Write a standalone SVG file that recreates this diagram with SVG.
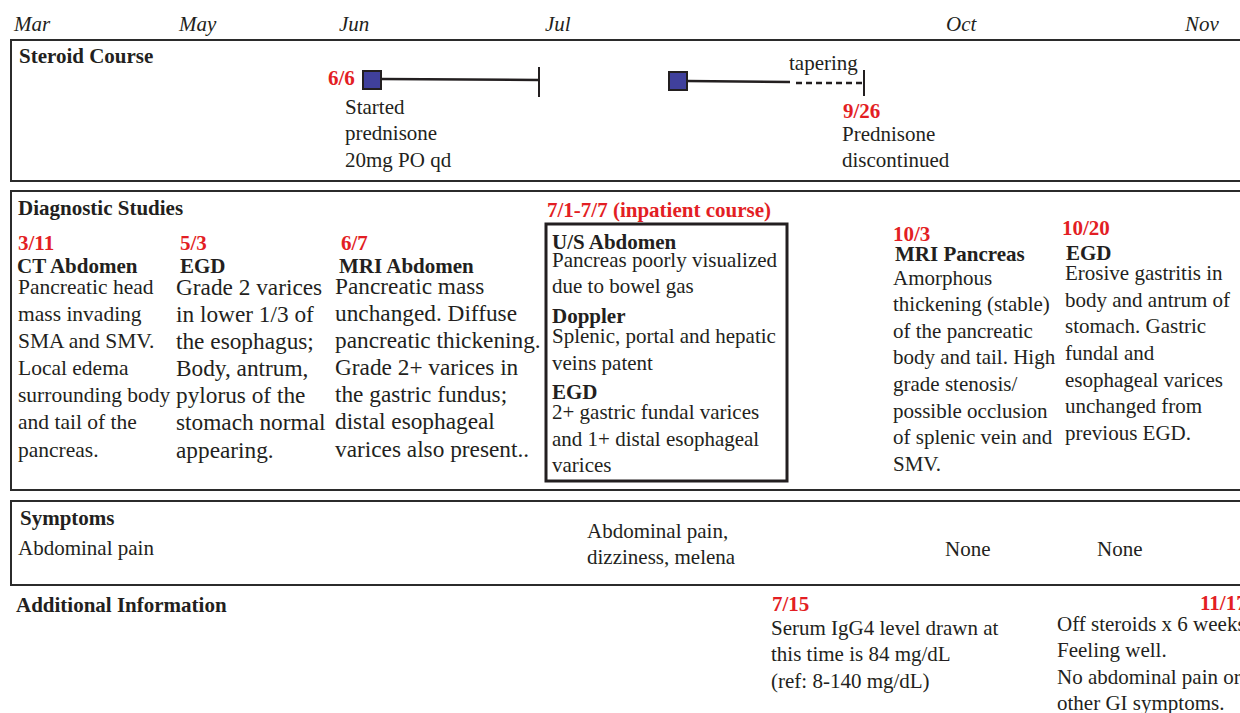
<svg xmlns="http://www.w3.org/2000/svg" width="1240" height="713" viewBox="0 0 1240 713" font-family="Liberation Serif, Times New Roman, serif">
<style>
text{font-family:'Liberation Serif',serif;font-size:21px;fill:#231f20}
.m{font-style:italic}
.b{font-weight:bold}
.r{font-weight:bold;fill:#e31e24}
.c1 text{font-size:21.5px}
.c2 text{font-size:23.3px}
.box{fill:none;stroke:#2b2b2b;stroke-width:2}
.ln{stroke:#231f20;stroke-width:2.5;fill:none}
.sq{fill:#40409c;stroke:#231f20;stroke-width:2}
</style>
<rect width="1240" height="713" fill="#fff"/>
<g id="months">
<text class="m" x="14" y="31">Mar</text>
<text class="m" x="179" y="31">May</text>
<text class="m" x="339" y="31">Jun</text>
<text class="m" x="545" y="31">Jul</text>
<text class="m" x="946" y="31">Oct</text>
<text class="m" x="1185" y="31">Nov</text>
</g>
<g id="steroid-course">
<rect class="box" x="11" y="40" width="1245" height="141"/>
<text class="b" x="19" y="63">Steroid Course</text>
</g>
<g id="connectors">
<path class="ln" d="M381 79 L539 80"/>
<path class="ln" d="M539 67 V97" style="stroke-width:2"/>
<path class="ln" d="M687 81 L790 82"/>
<path class="ln" d="M796 83 H862" style="stroke-dasharray:6 4"/>
<path class="ln" d="M864 70 V96" style="stroke-width:2"/>
</g>
<g id="steroid-start">
<rect class="sq" x="363" y="71" width="18" height="18"/>
<text class="r" x="328" y="85">6/6</text>
<text x="345" y="114">Started</text>
<text x="345" y="140">prednisone</text>
<text x="345" y="167">20mg PO qd</text>
</g>
<g id="steroid-taper">
<rect class="sq" x="669" y="72" width="18" height="18"/>
<text x="789" y="70">tapering</text>
</g>
<g id="steroid-stop">
<text class="r" x="843" y="118">9/26</text>
<text x="842" y="141">Prednisone</text>
<text x="842" y="167">discontinued</text>
</g>
<g id="diagnostic-studies">
<rect class="box" x="11" y="191" width="1245" height="299"/>
<text class="b" x="18" y="215">Diagnostic Studies</text>
</g>
<g id="ct-abdomen">
<text class="r" x="18" y="250">3/11</text>
<text class="b" x="17" y="273">CT Abdomen</text>
<g class="c1">
<text x="18" y="294">Pancreatic head</text>
<text x="18" y="321">mass invading</text>
<text x="18" y="348">SMA and SMV.</text>
<text x="18" y="375">Local edema</text>
<text x="18" y="402">surrounding body</text>
<text x="18" y="429">and tail of the</text>
<text x="18" y="457">pancreas.</text>
</g>
</g>
<g id="egd-1">
<text class="r" x="180" y="250">5/3</text>
<text class="b" x="180" y="273">EGD</text>
<g class="c2">
<text x="176" y="295">Grade 2 varices</text>
<text x="176" y="322">in lower 1/3 of</text>
<text x="176" y="349">the esophagus;</text>
<text x="176" y="376">Body, antrum,</text>
<text x="176" y="403">pylorus of the</text>
<text x="176" y="430">stomach normal</text>
<text x="176" y="458">appearing.</text>
</g>
</g>
<g id="mri-abdomen">
<text class="r" x="341" y="250">6/7</text>
<text class="b" x="339" y="273">MRI Abdomen</text>
<g class="c2">
<text x="335" y="294">Pancreatic mass</text>
<text x="335" y="321">unchanged. Diffuse</text>
<text x="335" y="348">pancreatic thickening.</text>
<text x="335" y="375">Grade 2+ varices in</text>
<text x="335" y="402">the gastric fundus;</text>
<text x="335" y="429">distal esophageal</text>
<text x="335" y="457">varices also present..</text>
</g>
</g>
<g id="inpatient-course">
<text class="r" x="547" y="217">7/1-7/7 (inpatient course)</text>
<rect x="546" y="224" width="241" height="257" fill="none" stroke="#231f20" stroke-width="3"/>
<text class="b" x="552" y="249">U/S Abdomen</text>
<text x="552" y="267">Pancreas poorly visualized</text>
<text x="552" y="293">due to bowel gas</text>
<text class="b" x="552" y="323">Doppler</text>
<text x="552" y="343">Splenic, portal and hepatic</text>
<text x="552" y="370">veins patent</text>
<text class="b" x="552" y="399">EGD</text>
<text x="552" y="419">2+ gastric fundal varices</text>
<text x="552" y="446">and 1+ distal esophageal</text>
<text x="552" y="472">varices</text>
</g>
<g id="mri-pancreas">
<text class="r" x="893" y="241">10/3</text>
<text class="b" x="895" y="261">MRI Pancreas</text>
<text x="893" y="285">Amorphous</text>
<text x="893" y="311">thickening (stable)</text>
<text x="893" y="338">of the pancreatic</text>
<text x="893" y="364">body and tail. High</text>
<text x="893" y="391">grade stenosis/</text>
<text x="893" y="418">possible occlusion</text>
<text x="893" y="444">of splenic vein and</text>
<text x="893" y="471">SMV.</text>
</g>
<g id="egd-2">
<text class="r" x="1062" y="235">10/20</text>
<text class="b" x="1066" y="260">EGD</text>
<text x="1065" y="280">Erosive gastritis in</text>
<text x="1065" y="307">body and antrum of</text>
<text x="1065" y="333">stomach. Gastric</text>
<text x="1065" y="360">fundal and</text>
<text x="1065" y="387">esophageal varices</text>
<text x="1065" y="413">unchanged from</text>
<text x="1065" y="440">previous EGD.</text>
</g>
<g id="symptoms">
<rect class="box" x="11" y="501" width="1245" height="84"/>
<text class="b" x="20" y="525">Symptoms</text>
<text x="18" y="555">Abdominal pain</text>
<text x="587" y="538">Abdominal pain,</text>
<text x="587" y="564">dizziness, melena</text>
<text x="945" y="556">None</text>
<text x="1097" y="556">None</text>
</g>
<g id="additional-information">
<text class="b" x="16" y="612">Additional Information</text>
</g>
<g id="igg4">
<text class="r" x="772" y="611">7/15</text>
<text x="771" y="635">Serum IgG4 level drawn at</text>
<text x="771" y="661">this time is 84 mg/dL</text>
<text x="771" y="688">(ref: 8-140 mg/dL)</text>
</g>
<g id="followup">
<text class="r" x="1200" y="610">11/17</text>
<text x="1057" y="631">Off steroids x 6 weeks.</text>
<text x="1057" y="657">Feeling well.</text>
<text x="1057" y="684">No abdominal pain or</text>
<text x="1057" y="710">other GI symptoms.</text>
</g>
</svg>
